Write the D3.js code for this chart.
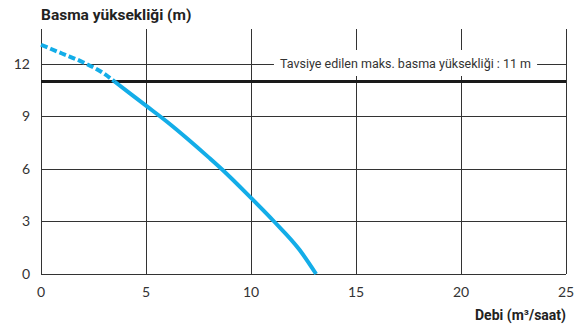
<!DOCTYPE html>
<html><head><meta charset="utf-8">
<script src="https://cdn.jsdelivr.net/npm/d3@7"></script>
<style>body{margin:0;background:#fff}svg{display:block}</style>
</head><body>
<svg id="c" width="580" height="327"></svg>
<script>
const xTicks = [0, 5, 10, 15, 20, 25];
const yTicks = [0, 3, 6, 9, 12];
const dashedFlow = [0, 1, 2, 3, 3.5];
const dashedHead = [13.1, 12.6, 12.1, 11.45, 11.0];
const solidFlow = [3.5, 5, 6, 7, 8, 8.6, 10, 11.1, 12.3, 13.1];
const solidHead = [11.0, 9.62, 8.7, 7.7, 6.65, 6.0, 4.35, 3.0, 1.4, 0];
const maxHead = 11;
const titleText = "Basma yüksekliği (m)";
const xTitle = "Debi (m³/saat)";
const refLabel = "Tavsiye edilen maks. basma yüksekliği : 11 m";

const svg = d3.select("#c");
const x = d3.scaleLinear().domain([0, 25]).range([41, 566]);
const y = d3.scaleLinear().domain([0, 14]).range([274, 29]);
const grid = "#333";

svg.append("g").selectAll("line").data(xTicks).join("line")
  .attr("x1", d => x(d)).attr("x2", d => x(d))
  .attr("y1", y(0)).attr("y2", y(14))
  .attr("stroke", grid).attr("stroke-width", 1).attr("shape-rendering", "crispEdges");
svg.append("g").selectAll("line").data(yTicks).join("line")
  .attr("x1", x(0)).attr("x2", x(25))
  .attr("y1", d => y(d)).attr("y2", d => y(d))
  .attr("stroke", grid).attr("stroke-width", 1).attr("shape-rendering", "crispEdges");

svg.append("line").attr("x1", x(0)).attr("x2", x(25))
  .attr("y1", y(maxHead)).attr("y2", y(maxHead))
  .attr("stroke", "#1a1a1a").attr("stroke-width", 3);

const lblG = svg.append("g");
const lbl = lblG.append("text").attr("x", 405.5).attr("y", y(12))
  .attr("dy", "0.35em").attr("text-anchor", "middle")
  .attr("font-family", "Roboto, sans-serif").attr("font-size", 12.5)
  .attr("fill", "#333").text(refLabel);
const bb = lbl.node().getBBox();
lblG.insert("rect", "text").attr("x", bb.x - 6).attr("y", y(12) - 14)
  .attr("width", bb.width + 12).attr("height", 26).attr("fill", "#fff");

const line = d3.line().x(d => x(d[0])).y(d => y(d[1])).curve(d3.curveMonotoneX);
const dashed = dashedFlow.map((f, i) => [f, dashedHead[i]]);
const solid = solidFlow.map((f, i) => [f, solidHead[i]]);
const blue = "#13ade8";
svg.append("path").attr("d", line(dashed)).attr("fill", "none")
  .attr("stroke", blue).attr("stroke-width", 4).attr("stroke-dasharray", "7,3");
svg.append("path").attr("d", line(solid)).attr("fill", "none")
  .attr("stroke", blue).attr("stroke-width", 4);

svg.append("g").selectAll("text").data(yTicks).join("text")
  .attr("x", 30).attr("y", d => y(d)).attr("dy", "0.35em").attr("text-anchor", "end")
  .attr("font-family", "Lato, sans-serif").attr("font-size", 14).attr("fill", "#333")
  .text(d => d);
svg.append("g").selectAll("text").data(xTicks).join("text")
  .attr("x", d => x(d)).attr("y", 292).attr("dy", "0.35em").attr("text-anchor", "middle")
  .attr("font-family", "Lato, sans-serif").attr("font-size", 14).attr("fill", "#333")
  .text(d => d);

svg.append("text").attr("x", 41).attr("y", 20)
  .attr("font-family", "Roboto, sans-serif").attr("font-weight", "bold")
  .attr("font-size", 15.5).attr("fill", "#222").text(titleText);
svg.append("text").attr("x", 566).attr("y", 320).attr("text-anchor", "end")
  .attr("font-family", "Roboto, sans-serif").attr("font-weight", "bold")
  .attr("font-size", 14).attr("fill", "#222").text(xTitle);
</script>
</body></html>
